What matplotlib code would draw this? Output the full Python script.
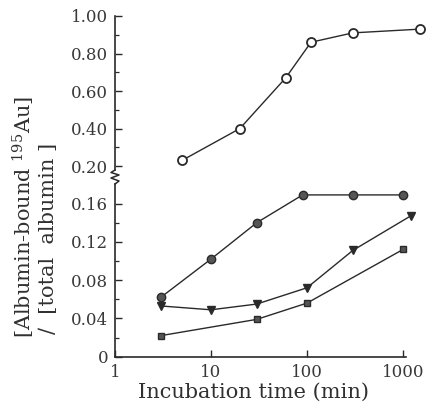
import matplotlib
matplotlib.use("Agg")
import matplotlib.pyplot as plt
from matplotlib.ticker import FixedLocator, NullLocator

plt.rcParams['mathtext.fontset'] = 'dejavuserif'

# data
t_open = [5, 20, 60, 110, 300, 1500]
v_open = [0.23, 0.40, 0.67, 0.86, 0.91, 0.93]
t_fcirc = [3, 10, 30, 90, 300, 1000]
v_fcirc = [0.062, 0.102, 0.140, 0.169, 0.169, 0.169]
t_tri = [3, 10, 30, 100, 300, 1200]
v_tri = [0.053, 0.049, 0.055, 0.072, 0.111, 0.147]
t_sq = [3, 30, 100, 1000]
v_sq = [0.022, 0.039, 0.056, 0.112]

upper_ticks = [0.20, 0.40, 0.60, 0.80, 1.00]
upper_labels = ["0.20", "0.40", "0.60", "0.80", "1.00"]
lower_ticks = [0, 0.04, 0.08, 0.12, 0.16]
lower_labels = ["0", "0.04", "0.08", "0.12", "0.16"]
x_ticks = [1, 10, 100, 1000]
x_labels = ["1", "10", "100", "1000"]

W, H = 427, 409
fig = plt.figure(figsize=(W / 100, H / 100), dpi=100)
fig.patch.set_facecolor('white')

left = 115 / W
width = 311 / W
ax_up = fig.add_axes([left, (H - 170) / H, width, (170 - 16) / H])
ax_lo = fig.add_axes([left, (H - 356.7) / H, width, (356.7 - 184) / H])

col = '#2a2a2a'
tcol = '#383838'
tickfont = dict(family='DejaVu Serif', size=12, color=tcol)

for ax in (ax_up, ax_lo):
    ax.set_xscale('log')
    ax.set_xlim(1, 10 ** (311 / 96))
    ax.set_facecolor('none')
    for s in ('top', 'right'):
        ax.spines[s].set_visible(False)
    ax.spines['left'].set_linewidth(1.2)
    ax.spines['left'].set_color(col)
    ax.tick_params(axis='y', direction='in', length=5, width=1.0, color=col, pad=5)
    ax.tick_params(axis='y', which='minor', direction='in', length=3, width=0.9, color=col)
    ax.xaxis.set_minor_locator(NullLocator())

# upper axes
ax_up.spines['bottom'].set_visible(False)
ax_up.set_ylim(0.1787, 1.0)
ax_up.yaxis.set_major_locator(FixedLocator(upper_ticks))
ax_up.set_yticklabels(upper_labels, **tickfont)
ax_up.yaxis.set_minor_locator(FixedLocator([0.3, 0.5, 0.7, 0.9]))
ax_up.set_xticks([])
ax_up.plot(t_open, v_open, '-', color=col, lw=1.0, marker='o', ms=6.5,
           mfc='white', mec=col, mew=1.3, clip_on=False)

# lower axes
ax_lo.set_ylim(0, 0.1804)
ax_lo.spines['bottom'].set_linewidth(1.2)
ax_lo.spines['bottom'].set_color(col)
ax_lo.spines['bottom'].set_bounds(1, 1080)
ax_lo.yaxis.set_major_locator(FixedLocator(lower_ticks))
ax_lo.set_yticklabels(lower_labels, **tickfont)
ax_lo.yaxis.set_minor_locator(FixedLocator([0.02, 0.06, 0.10, 0.14]))
ax_lo.xaxis.set_major_locator(FixedLocator(x_ticks))
ax_lo.set_xticklabels(x_labels, **tickfont)
ax_lo.tick_params(axis='x', direction='in', length=5, width=1.0, color=col, pad=5)

ax_lo.plot(t_fcirc, v_fcirc, '-', color=col, lw=1.0, marker='o', ms=6,
           mfc='#555555', mec=col, mew=1.0, clip_on=False)
ax_lo.plot(t_tri, v_tri, '-', color=col, lw=1.0, marker='v', ms=5.5,
           mfc=col, mec=col, clip_on=False)
ax_lo.plot(t_sq, v_sq, '-', color=col, lw=1.0, marker='s', ms=5,
           mfc='#555555', mec=col, clip_on=False)

# axis break zigzag
zx = [115, 111, 119, 111, 119, 115]
zy = [170, 172.5, 175, 178, 181, 184]
fig.add_artist(plt.Line2D([x / W for x in zx], [(H - y) / H for y in zy],
                          color=col, lw=1.1))

labfont = dict(family='DejaVu Serif', size=15)
lcol = '#303030'
fig.text(254 / W, (H - 392) / H, "Incubation time (min)", ha='center', va='center',
         color=lcol, **labfont)
fig.text(24 / W, (H - 338) / H, r"[Albumin-bound $^{195}$Au]", rotation=90,
         ha='center', va='bottom', color=lcol, **labfont)
fig.text(49 / W, (H - 334) / H, "\u2215  [total  albumin ]", rotation=90,
         ha='center', va='bottom', color=lcol, **labfont)

fig.savefig('out.png', dpi=100, facecolor='white')
